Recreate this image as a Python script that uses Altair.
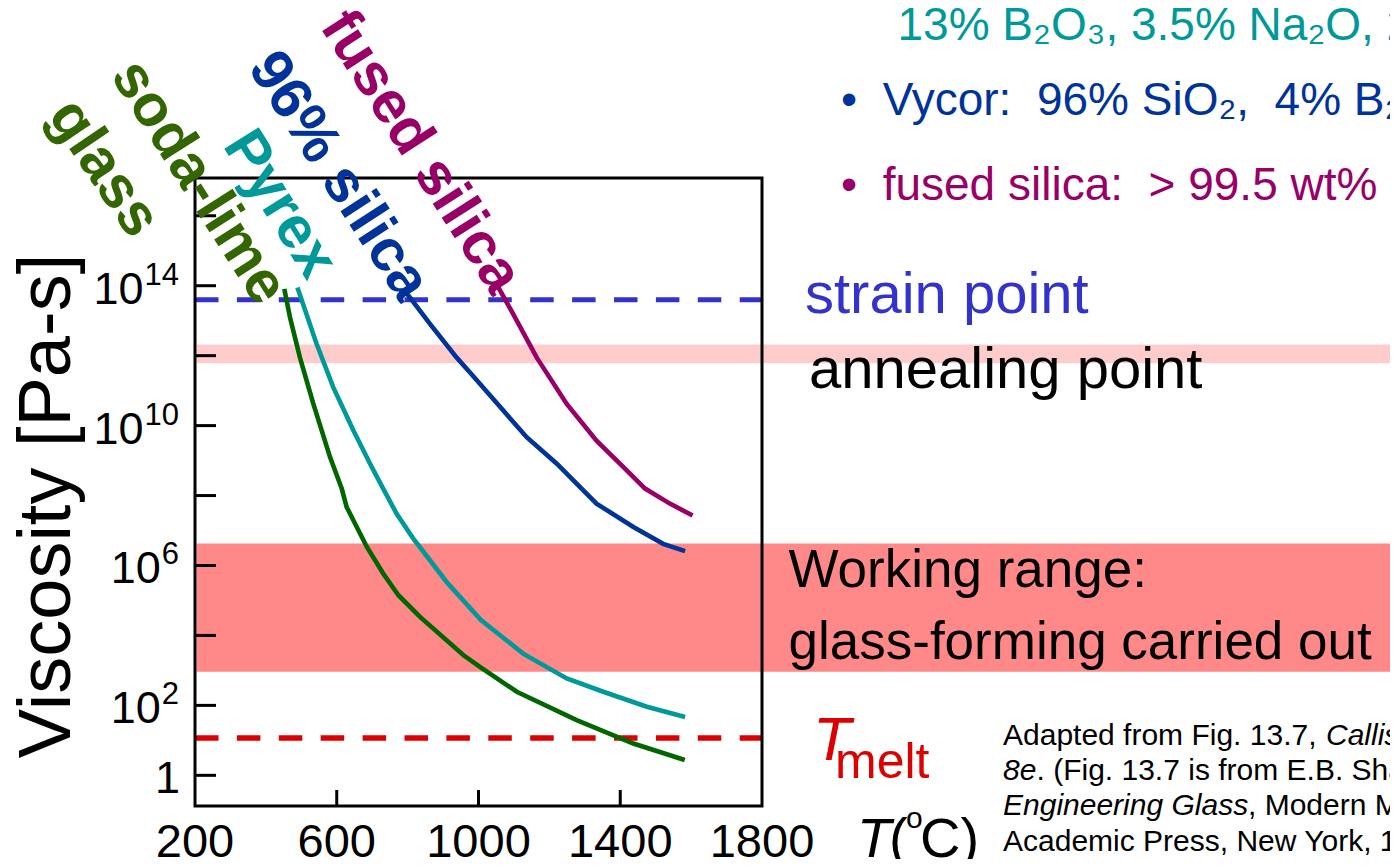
import altair as alt
import pandas as pd

# ---------------- data ----------------
series_names = ["soda-lime glass", "Pyrex", "96% silica", "fused silica"]
line_colors = ["#006600", "#009999", "#003399", "#990066"]

# temperature (deg C) and log10(viscosity / Pa-s)
soda_T = [452, 468, 496, 534, 581, 614, 628, 685, 731, 774, 835, 957, 1004, 1108, 1277, 1437, 1582]
soda_log = [13.91, 13.10, 11.95, 10.62, 9.10, 8.20, 7.67, 6.53, 5.77, 5.15, 4.53, 3.44, 3.10, 2.39, 1.58, 0.91, 0.44]
pyrex_T = [489, 543, 590, 647, 694, 731, 769, 816, 863, 910, 1007, 1126, 1249, 1352, 1475, 1583]
pyrex_log = [13.95, 12.34, 11.10, 9.86, 8.91, 8.20, 7.48, 6.77, 6.15, 5.53, 4.44, 3.48, 2.77, 2.39, 1.96, 1.67]
vycor_T = [788, 863, 938, 976, 1070, 1136, 1221, 1333, 1437, 1521, 1583]
vycor_log = [13.91, 12.91, 11.95, 11.52, 10.43, 9.67, 8.91, 7.77, 7.10, 6.62, 6.41]
fused_T = [1056, 1098, 1164, 1249, 1333, 1409, 1470, 1540, 1604]
fused_log = [13.95, 13.19, 11.95, 10.62, 9.57, 8.81, 8.20, 7.77, 7.43]

strain_log = 13.6
melt_log = 1.07
anneal_band_log = [11.78, 12.32]
working_band_log = [2.96, 6.63]

ytick_exps = [0, 2, 4, 6, 8, 10, 12, 14, 16]
ylabel_exps = [0, 2, 6, 10, 14]
xtick_vals = [600, 1000, 1400]
xlabel_vals = [200, 600, 1000, 1400, 1800]

# ---------------- tables ----------------
rows = []
for name, Ts, Ls in zip(series_names,
                        [soda_T, pyrex_T, vycor_T, fused_T],
                        [soda_log, pyrex_log, vycor_log, fused_log]):
    for t, l in zip(Ts, Ls):
        rows.append({"series": name, "T": t, "visc": 10.0 ** l})
curves = pd.DataFrame(rows)

W, H = 567, 628
FONT = "Liberation Sans"
xs = alt.Scale(domain=[200, 1800], nice=False, zero=False)
ys = alt.Scale(type="log", domain=[10 ** -0.877, 10 ** 17.08], nice=False)
dummy = pd.DataFrame({"d": [0]})


def band(lo, hi, color):
    df = pd.DataFrame({"lo": [10.0 ** lo], "hi": [10.0 ** hi]})
    return alt.Chart(df).mark_rect(color=color).encode(
        y=alt.Y("lo:Q", scale=ys, axis=None), y2="hi:Q",
        x=alt.value(1.5), x2=alt.value(1210))


def hline(v, color, sw):
    df = pd.DataFrame({"v": [10.0 ** v]})
    return alt.Chart(df).mark_rule(color=color, strokeWidth=sw, strokeDash=[23.5, 18.4]).encode(
        y=alt.Y("v:Q", scale=ys, axis=None), x=alt.value(0), x2=alt.value(W))


def txt(s, x, y, size, color="black", align="left", baseline="alphabetic", **kw):
    return alt.Chart(dummy).mark_text(text=s, fontSize=size, color=color, font=FONT,
                                      align=align, baseline=baseline, **kw).encode(
        x=alt.value(x), y=alt.value(y))


layers = []
layers.append(band(*anneal_band_log, "#FFCCCC"))
layers.append(band(*working_band_log, "#FF8888"))
layers.append(hline(strain_log, "#3333CC", 5))
layers.append(hline(melt_log, "#DD0000", 5.5))

layers.append(alt.Chart(curves).mark_line(strokeWidth=4.6, strokeJoin="miter").encode(
    x=alt.X("T:Q", scale=xs, axis=None),
    y=alt.Y("visc:Q", scale=ys, axis=None),
    color=alt.Color("series:N", scale=alt.Scale(domain=series_names, range=line_colors), legend=None),
    detail="series:N"))

# ticks
ytk = pd.DataFrame({"val": [10.0 ** e for e in ytick_exps]})
layers.append(alt.Chart(ytk).mark_rule(color="black", strokeWidth=3).encode(
    y=alt.Y("val:Q", scale=ys, axis=None), x=alt.value(0), x2=alt.value(21)))
xtk = pd.DataFrame({"T": xtick_vals})
layers.append(alt.Chart(xtk).mark_rule(color="black", strokeWidth=3).encode(
    x=alt.X("T:Q", scale=xs, axis=None), y=alt.value(H), y2=alt.value(H - 16)))

# frame
layers.append(alt.Chart(dummy).mark_rect(fillOpacity=0, stroke="black", strokeWidth=3).encode(
    x=alt.value(0), x2=alt.value(W), y=alt.value(0), y2=alt.value(H)))

# y tick labels with superscripts
ylab = pd.DataFrame({
    "val": [10.0 ** e for e in ylabel_exps],
    "base": ["1" if e == 0 else "10" for e in ylabel_exps],
    "exp": ["" if e == 0 else str(e) for e in ylabel_exps],
})
layers.append(alt.Chart(ylab).transform_calculate(
    bx="datum.exp == '' ? -15 : -17 - length(datum.exp) * 17.2").mark_text(
    fontSize=45, font=FONT, align="right", baseline="alphabetic", dy=18, color="black").encode(
    x=alt.X("bx:Q", scale=None), y=alt.Y("val:Q", scale=ys, axis=None), text="base:N"))
layers.append(alt.Chart(ylab).mark_text(
    fontSize=31, font=FONT, align="right", baseline="alphabetic", dy=-1, color="black").encode(
    x=alt.value(-16), y=alt.Y("val:Q", scale=ys, axis=None), text="exp:N"))

# x tick labels
xlab = pd.DataFrame({"T": xlabel_vals, "lab": [str(v) for v in xlabel_vals]})
layers.append(alt.Chart(xlab).mark_text(
    fontSize=47, font=FONT, align="center", baseline="alphabetic", color="black").encode(
    x=alt.X("T:Q", scale=xs, axis=None), y=alt.value(679), text="lab:N"))

# axis titles
layers.append(txt("Viscosity [Pa-s]", -125, 328, 74, align="center", angle=270))
layers.append(txt("T", 662, 679, 56, fontStyle="italic"))
layers.append(txt("(", 694, 679, 56))
layers.append(txt("o", 711, 650, 30))
layers.append(txt("C)", 725, 679, 56))

# curve labels (rotated)
lab_specs = [
    ("fused silica", 226, -26, 57.4, "#990066"),
    ("96% silica", 144, -2, 57.0, "#003399"),
    ("Pyrex", 85, 26, 58.0, "#009999"),
    ("soda-lime", 4, 4, 57.6, "#336600"),
    ("glass", -91, -10, 56.0, "#336600"),
]
for s, x, y, ang, c in lab_specs:
    layers.append(txt(s, x, y, 59, color=c, align="center", baseline="middle",
                      angle=ang, fontWeight="bold"))

# right-side annotations
layers.append(txt("strain point", 610, 135, 58, color="#3333CC"))
layers.append(txt("annealing point", 614, 210, 58))
layers.append(txt("Working range:", 593.5, 409, 53))
layers.append(txt("glass-forming carried out", 593.5, 480.5, 53))
layers.append(txt("T", 618, 582, 62, color="#DD0000", fontStyle="italic"))
layers.append(txt("melt", 640, 600, 50, color="#DD0000"))

NB = "\u00a0"
layers.append(txt("13% B\u2082O\u2083, 3.5% Na\u2082O, 2.5% Al\u2082O\u2083", 702.5, -138, 46, color="#009999"))
layers.append(txt("\u2022" + NB * 2 + "Vycor:" + NB * 2 + "96% SiO\u2082," + NB * 2 + "4% B\u2082O\u2083",
                  646, -63, 46, color="#003399"))
layers.append(txt("\u2022" + NB * 2 + "fused silica:" + NB * 2 + "> 99.5 wt% SiO\u2082",
                  646, 22, 46, color="#990066"))

# source note
SN = 30
layers.append(txt("Adapted from Fig. 13.7, ", 808, 567, SN))
layers.append(txt("Callister & Rethwisch", 1131, 567, SN, fontStyle="italic"))
layers.append(txt("8e", 808, 602, SN, fontStyle="italic"))
layers.append(txt(". (Fig. 13.7 is from E.B. Shand,", 841.5, 602, SN))
layers.append(txt("Engineering Glass", 808, 637, SN, fontStyle="italic"))
layers.append(txt(", Modern Materials, Vol. 6,", 1053, 637, SN))
layers.append(txt("Academic Press, New York, 1968, p. 262.)", 808, 673, SN))

chart = alt.layer(*layers).properties(
    width=W, height=H,
    padding={"left": 187, "top": 170, "right": 628, "bottom": 53},
    autosize=alt.AutoSizeParams(type="none"),
    background="white",
).configure_view(stroke="transparent")

chart.save("out.html", embed_options={"renderer": "svg", "actions": False})
